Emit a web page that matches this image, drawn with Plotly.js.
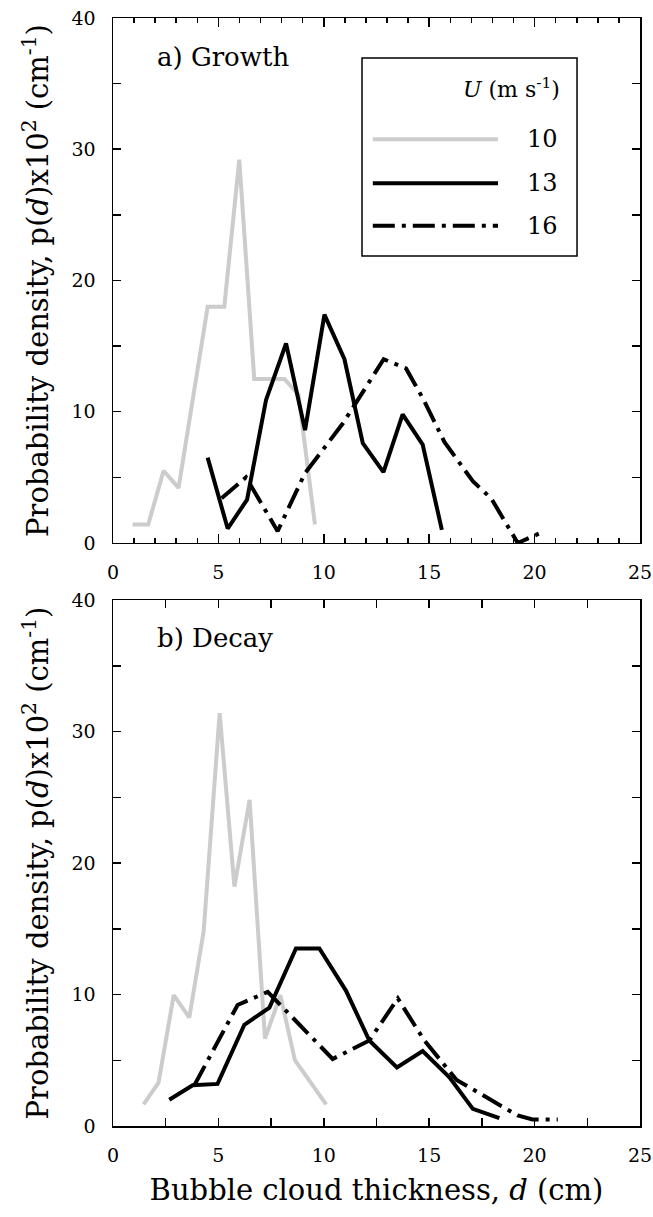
<!DOCTYPE html>
<html>
<head>
<meta charset="utf-8">
<script src="https://cdn.plot.ly/plotly-3.0.1.min.js"></script>
<style>html,body{margin:0;padding:0;background:#fff;}#chart{width:653px;height:1217px;}</style>
</head>
<body>
<div id="chart"></div>
<script>
// ---- data ----
// a) Growth
const growthD10 = [0.93, 1.67, 2.40, 3.11, 4.49, 5.28, 5.99, 6.70, 8.13, 8.80, 9.58];
const growthP10 = [1.4, 1.4, 5.5, 4.2, 18.0, 18.0, 29.2, 12.5, 12.5, 11.3, 1.4];
const growthD13 = [4.49, 5.44, 6.36, 7.26, 8.21, 9.11, 10.03, 10.98, 11.85, 12.83, 13.74, 14.69, 15.60];
const growthP13 = [6.5, 1.1, 3.3, 10.9, 15.2, 8.6, 17.4, 14.0, 7.6, 5.4, 9.8, 7.5, 1.0];
const growthD16 = [5.15, 6.31, 7.81, 9.10, 10.90, 12.84, 13.90, 14.74, 15.72, 17.07, 17.94, 19.20, 20.47];
const growthP16 = [3.4, 5.0, 0.9, 5.3, 9.1, 14.0, 13.3, 10.9, 7.7, 4.7, 3.4, 0.0, 0.9];
// b) Decay
const decayD10 = [1.45, 2.16, 2.88, 3.62, 4.30, 5.06, 5.76, 6.48, 7.21, 7.94, 8.63, 10.11];
const decayP10 = [1.65, 3.3, 9.95, 8.25, 14.8, 31.4, 18.2, 24.8, 6.65, 9.95, 5.0, 1.65];
const decayD13 = [2.67, 3.78, 4.96, 6.23, 7.42, 8.68, 9.79, 11.05, 12.16, 13.47, 14.69, 15.96, 17.07, 18.33];
const decayP13 = [2.0, 3.1, 3.2, 7.7, 9.0, 13.5, 13.5, 10.3, 6.5, 4.45, 5.7, 3.7, 1.3, 0.6];
const decayD16 = [3.86, 5.91, 7.34, 10.42, 12.16, 13.51, 14.77, 16.30, 19.20, 19.90, 21.10];
const decayP16 = [3.1, 9.2, 10.2, 5.1, 6.5, 9.7, 6.5, 3.5, 0.8, 0.5, 0.5];

const windSpeeds = ['10', '13', '16'];
const panelLabels = ['a) Growth', 'b) Decay'];
const xTitle = 'Bubble cloud thickness, <i>d</i> (cm)';
const yTitle = 'Probability density, p(<i>d</i>)x10<sup>2</sup> (cm<sup>-1</sup>)';
const legendTitle = '<i>U</i> (m s<sup>-1</sup>)';

// ---- styles ----
const FONT = 'DejaVu Serif';
const GREY = '#cccccc';
const styles = {
  '10': {color: GREY, width: 4, dash: 'solid'},
  '13': {color: '#000', width: 4, dash: 'solid'},
  '16': {color: '#000', width: 4, dash: '22px,7px,4px,7px'}
};

function tr(x, y, key, xa, ya) {
  return {x: x, y: y, type: 'scatter', mode: 'lines', name: key,
          xaxis: xa, yaxis: ya, line: styles[key], hoverinfo: 'x+y'};
}

const data = [
  tr(growthD10, growthP10, '10', 'x', 'y'),
  tr(growthD13, growthP13, '13', 'x', 'y'),
  tr(growthD16, growthP16, '16', 'x', 'y'),
  tr(decayD10, decayP10, '10', 'x2', 'y2'),
  tr(decayD13, decayP13, '13', 'x2', 'y2'),
  tr(decayD16, decayP16, '16', 'x2', 'y2'),
  // carriers for the mirrored tick axes (top / right edges)
  {x: [], y: [], type: 'scatter', mode: 'lines', xaxis: 'x3', yaxis: 'y3', hoverinfo: 'skip'},
  {x: [], y: [], type: 'scatter', mode: 'lines', xaxis: 'x4', yaxis: 'y4', hoverinfo: 'skip'}
];

const tickFont = {family: FONT, size: 19, color: '#000'};
function minor(step, len) {
  return {dtick: step, tick0: 0, ticks: 'inside', ticklen: len, tickwidth: 1.5, tickcolor: '#000', showgrid: false};
}
function base(extra) {
  return Object.assign({
    ticks: 'inside', tickwidth: 1.5, tickcolor: '#000',
    showline: true, linewidth: 1.5, linecolor: '#000', mirror: true,
    showgrid: false, zeroline: false, ticklabeloverflow: 'allow',
    tickfont: tickFont, tick0: 0
  }, extra);
}
const xRange = [0, 25], yRange = [0, 40];
const domA = [0.5262, 1], domB = [0, 0.4747];
const yTitleObj = {text: yTitle, font: {family: FONT, size: 29, color: '#000'}, standoff: 14};

const layout = {
  width: 653, height: 1217,
  margin: {l: 113, r: 13, t: 18, b: 91},
  paper_bgcolor: '#fff', plot_bgcolor: '#fff',
  showlegend: false,
  font: {family: FONT, color: '#000'},
  // panel a
  xaxis: base({anchor: 'y', domain: [0, 1], range: xRange, dtick: 5, ticklen: 9, ticklabelstandoff: 12, minor: minor(1, 5)}),
  xaxis3: base({overlaying: 'x', anchor: 'y', side: 'top', range: xRange, dtick: 5, ticklen: 9, showline: false, showticklabels: false, minor: minor(1, 5)}),
  yaxis: base({anchor: 'x', domain: domA, range: yRange, dtick: 10, ticklen: 8, ticklabelstandoff: 12, minor: minor(5, 8), title: yTitleObj}),
  yaxis3: base({overlaying: 'y', anchor: 'x', side: 'right', range: yRange, dtick: 10, ticklen: 8, showline: false, showticklabels: false, minor: minor(5, 8)}),
  // panel b
  xaxis2: base({anchor: 'y2', domain: [0, 1], range: xRange, dtick: 5, ticklen: 8, ticklabelstandoff: 12, minor: minor(2.5, 8),
    title: {text: xTitle, font: {family: FONT, size: 29, color: '#000'}, standoff: 14}}),
  xaxis4: base({overlaying: 'x2', anchor: 'y2', side: 'top', range: xRange, dtick: 5, ticklen: 8, showline: false, showticklabels: false, minor: minor(2.5, 8)}),
  yaxis2: base({anchor: 'x2', domain: domB, range: yRange, dtick: 10, ticklen: 8, ticklabelstandoff: 12, minor: minor(5, 8), title: yTitleObj}),
  yaxis4: base({overlaying: 'y2', anchor: 'x2', side: 'right', range: yRange, dtick: 10, ticklen: 8, showline: false, showticklabels: false, minor: minor(5, 8)})
};

// legend drawn in paper coordinates (box, sample lines, labels)
const lgX0 = 0.4725, lgX1 = 0.8805, lgY0 = 0.7852, lgY1 = 0.9639;
const lineX0 = 0.493, lineX1 = 0.7306, labelX = 0.849;
const rowY = [0.8906, 0.8508, 0.8126];

const shapes = [
  {type: 'rect', xref: 'paper', yref: 'paper', x0: lgX0, x1: lgX1, y0: lgY0, y1: lgY1,
   line: {color: '#000', width: 1.5}, fillcolor: 'rgba(0,0,0,0)'}
];
const annotations = [
  {xref: 'paper', yref: 'paper', x: 0.0797, y: 0.9648, xanchor: 'left', yanchor: 'middle',
   text: panelLabels[0], showarrow: false, font: {family: FONT, size: 26, color: '#000'}},
  {xref: 'paper', yref: 'paper', x: 0.0797, y: 0.4400, xanchor: 'left', yanchor: 'middle',
   text: panelLabels[1], showarrow: false, font: {family: FONT, size: 26, color: '#000'}},
  {xref: 'paper', yref: 'paper', x: 0.8513, y: 0.9368, xanchor: 'right', yanchor: 'middle',
   text: legendTitle, showarrow: false, font: {family: FONT, size: 22, color: '#000'}}
];
windSpeeds.forEach(function (k, i) {
  shapes.push({type: 'line', xref: 'paper', yref: 'paper', x0: lineX0, x1: lineX1, y0: rowY[i], y1: rowY[i],
               line: {color: styles[k].color, width: styles[k].width, dash: styles[k].dash}});
  annotations.push({xref: 'paper', yref: 'paper', x: labelX, y: rowY[i], xanchor: 'right', yanchor: 'middle',
                    text: k, showarrow: false, font: {family: FONT, size: 24, color: '#000'}});
});
layout.shapes = shapes;
layout.annotations = annotations;

Plotly.newPlot('chart', data, layout, {staticPlot: true, displayModeBar: false});
</script>
</body>
</html>
